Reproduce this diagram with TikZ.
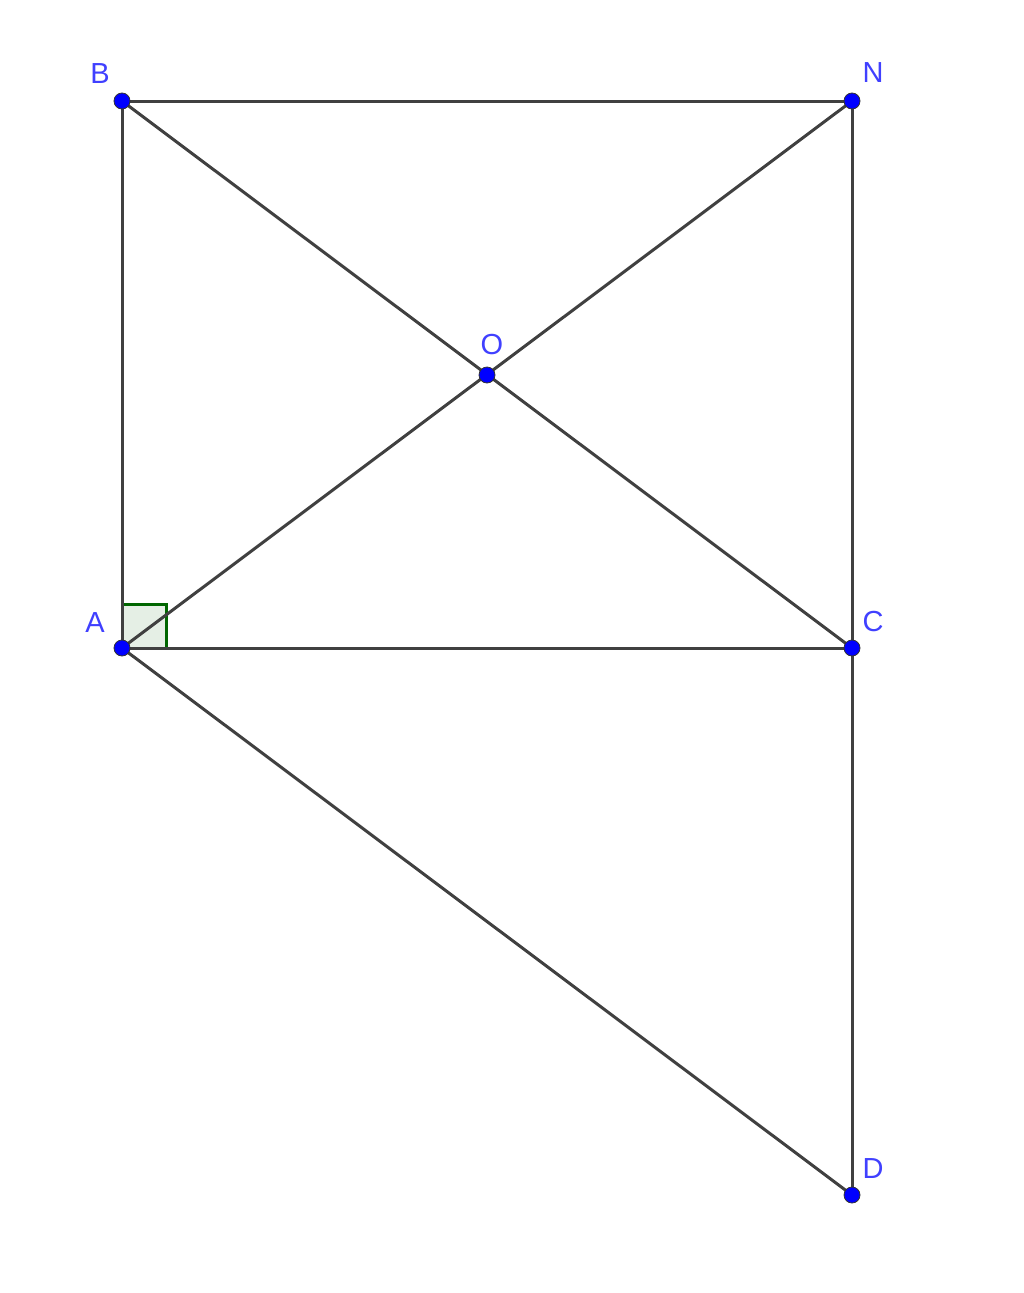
\documentclass[tikz,border=0pt]{standalone}
\usepackage{fontspec}
\setmainfont{Liberation Sans}
\begin{document}
\begin{tikzpicture}[x=1pt,y=-1pt,
  seg/.style={draw=black!75,line width=3pt},
  pt/.style={circle,fill=blue,draw=black!80,line width=0.8pt,inner sep=0pt,minimum size=16pt},
  lab/.style={text=blue!75!white,font=\fontsize{29}{29}\selectfont,inner sep=0pt}]
\useasboundingbox (0,0) rectangle (1024,1293);
\coordinate (B) at (122,101);
\coordinate (N) at (852,101);
\coordinate (O) at (487,375);
\coordinate (A) at (122,648);
\coordinate (C) at (852,648);
\coordinate (D) at (852,1195);
\filldraw[fill=green!40!black,fill opacity=0.1,draw=green!40!black,line width=3pt] (A) rectangle ++(44,-44);
\draw[seg] (B) -- (N);
\draw[seg] (B) -- (A);
\draw[seg] (N) -- (C);
\draw[seg] (C) -- (D);
\draw[seg] (A) -- (C);
\draw[seg] (B) -- (C);
\draw[seg] (A) -- (N);
\draw[seg] (A) -- (D);
\foreach \p in {B,N,O,A,C,D} \node[pt] (p\p) at (\p) {};
\node[lab] (lB) at (100,74) {B};
\node[lab] (lN) at (873,73) {N};
\node[lab] (lO) at (492,345) {O};
\node[lab] (lA) at (95,623) {A};
\node[lab] (lC) at (873,622) {C};
\node[lab] (lD) at (873,1169) {D};
\end{tikzpicture}
\end{document}
